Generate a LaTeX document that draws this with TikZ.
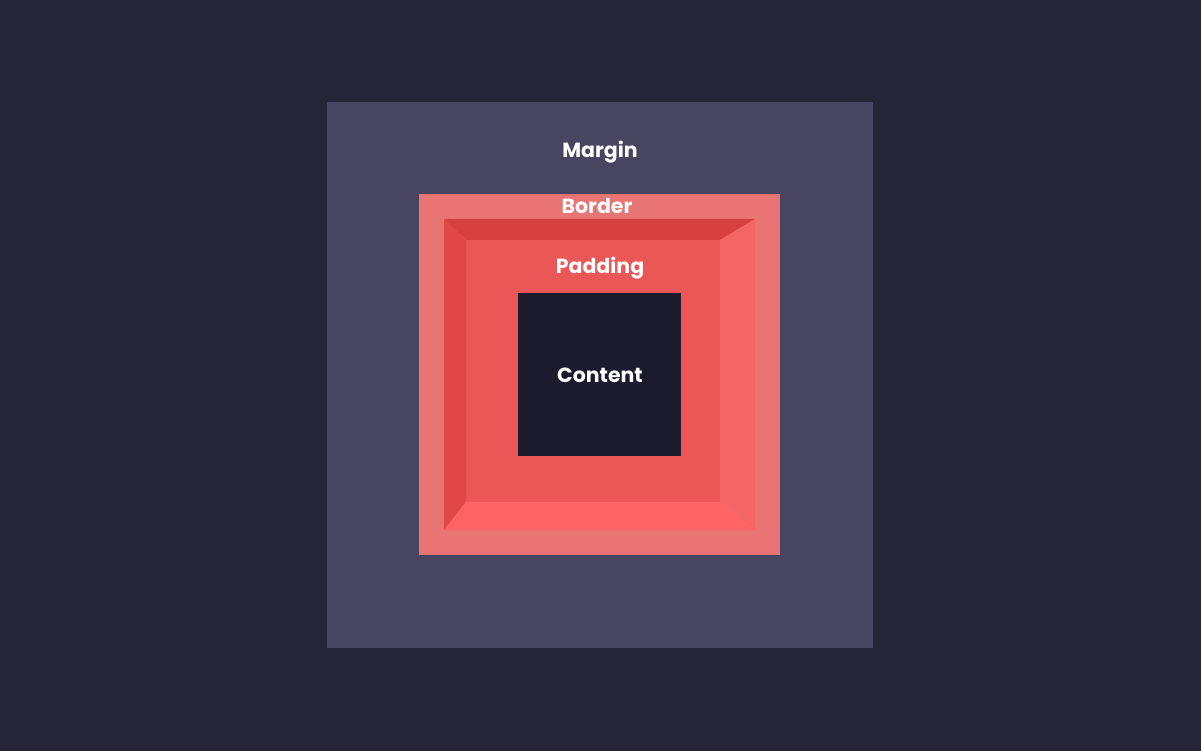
\documentclass[tikz,border=0pt]{standalone}
\usepackage{fontspec}
\setmainfont{Poppins}
\definecolor{bgc}{HTML}{262538}
\definecolor{marginc}{HTML}{484560}
\definecolor{borderc}{HTML}{E87474}
\definecolor{padc}{HTML}{EB5757}
\definecolor{topc}{HTML}{D64040}
\definecolor{leftc}{HTML}{E04848}
\definecolor{rightc}{HTML}{F46666}
\definecolor{botc}{HTML}{FF6363}
\definecolor{contc}{HTML}{1C1B2E}
\tikzset{lbl/.style={text=white, font=\bfseries\fontsize{20.5}{24}\selectfont, inner sep=0pt}}
\begin{document}
\begin{tikzpicture}[x=1pt,y=-1pt]
\fill[bgc] (0,0) rectangle (1201,751);
\useasboundingbox (0,0) rectangle (1201,751);
% margin
\fill[marginc] (327,102) rectangle (873,648);
% border
\fill[borderc] (419,194) rectangle (780,555);
% bevels
\coordinate (o1) at (444,219); \coordinate (o2) at (755,219);
\coordinate (o3) at (755,530); \coordinate (o4) at (444,530);
\coordinate (i1) at (466,240); \coordinate (i2) at (720,240);
\coordinate (i3) at (720,502); \coordinate (i4) at (466,502);
\fill[topc] (o1) -- (o2) -- (i2) -- (i1) -- cycle;
\fill[leftc] (o1) -- (i1) -- (i4) -- (o4) -- cycle;
\fill[rightc] (o2) -- (o3) -- (i3) -- (i2) -- cycle;
\fill[botc] (o4) -- (i4) -- (i3) -- (o3) -- cycle;
\fill[padc] (i1) rectangle (i3);
% content
\fill[contc] (518,293) rectangle (681,456);
\node[lbl] (margin) at (600,152.5) {Margin};
\node[lbl] (border) at (597,206) {Border};
\node[lbl] (padding) at (600,268.5) {Padding};
\node[lbl] (content) at (600,375) {Content};
\end{tikzpicture}
\end{document}
